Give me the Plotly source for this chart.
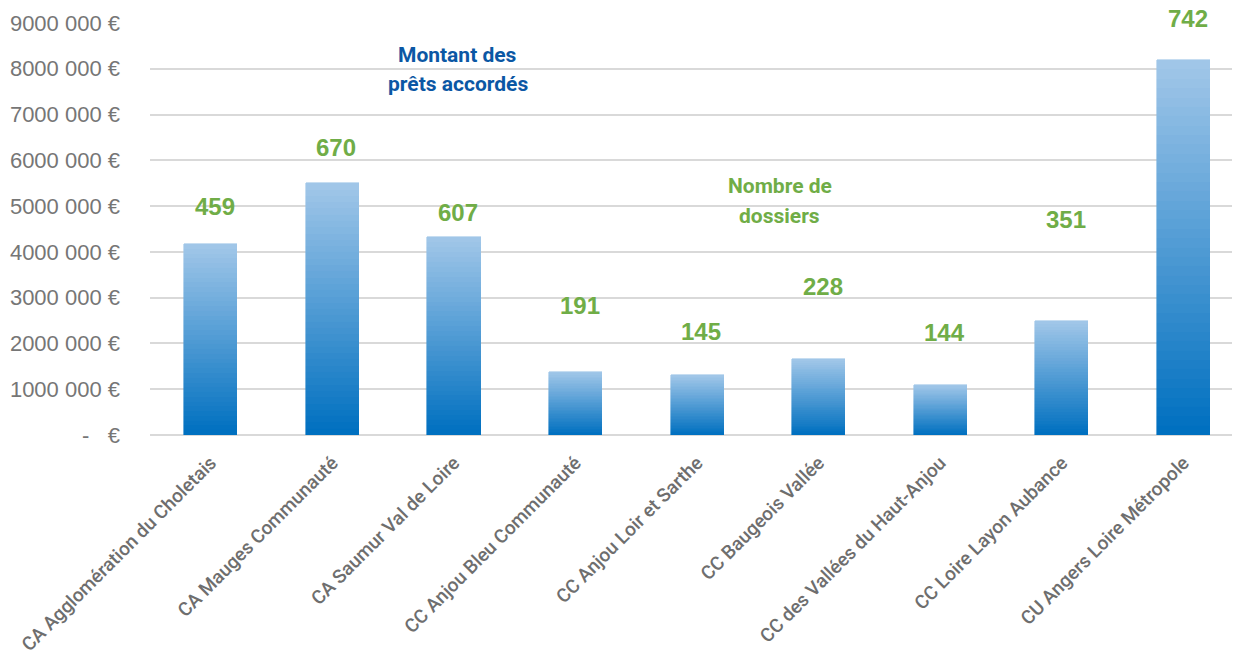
import plotly.graph_objects as go

# ---- data ----
categories = [
    "CA Agglomération du Choletais",
    "CA Mauges Communauté",
    "CA Saumur Val de Loire",
    "CC Anjou Bleu Communauté",
    "CC Anjou Loir et Sarthe",
    "CC Baugeois Vallée",
    "CC des Vallées du Haut-Anjou",
    "CC Loire Layon Aubance",
    "CU Angers Loire Métropole",
]
montants = [4170000, 5500000, 4320000, 1380000, 1310000, 1660000, 1090000, 2490000, 8190000]
dossiers = [459, 670, 607, 191, 145, 228, 144, 351, 742]
# vertical placement of the count labels (in € axis units, as placed in the source)
label_y = [5000000, 6290000, 4870000, 2820000, 2270000, 3250000, 2240000, 4700000, 9090000]
tick_vals = [0, 1000000, 2000000, 3000000, 4000000, 5000000, 6000000, 7000000, 8000000, 9000000]
y_max = 9000000


def fmt(v):
    if v == 0:
        return "-\u00a0\u00a0\u00a0€"
    return f"{v // 1000} {v % 1000:03d} €"


tick_text = [fmt(v) for v in tick_vals]

# ---- gradient bars via stacked slices ----
N = 40
top_rgb = (160, 198, 232)
bot_rgb = (0, 112, 192)

fig = go.Figure()
for i in range(N):
    t = i / (N - 1)
    c = tuple(round(bot_rgb[k] + (top_rgb[k] - bot_rgb[k]) * t) for k in range(3))
    col = f"rgb{c}"
    fig.add_trace(go.Bar(
        x=categories,
        y=[v / N for v in montants],
        width=0.436,
        marker=dict(color=col, line=dict(color=col, width=0.6)),
        showlegend=False,
        hoverinfo="skip",
    ))

ann = []
for cat, d, ly in zip(categories, dossiers, label_y):
    ann.append(dict(x=cat, y=ly / y_max, xref="x", yref="paper", text=str(d), showarrow=False,
                    xanchor="center", yanchor="middle", xshift=4,
                    font=dict(family="Liberation Sans", size=24, color="#70ad47", weight="bold")))
for j, line in enumerate(["Montant des", "prêts accordés"]):
    ann.append(dict(x=2.03, y=8300000 - j * 630000, xref="x", yref="y", text=line,
                    showarrow=False, xanchor="center", yanchor="middle",
                    font=dict(family="Roboto", size=21, color="#0b57a4", weight="bold")))
for j, line in enumerate(["Nombre de", "dossiers"]):
    ann.append(dict(x=4.68, y=5430000 - j * 650000, xref="x", yref="y", text=line,
                    showarrow=False, xanchor="center", yanchor="middle",
                    font=dict(family="Roboto", size=21, color="#70ad47", weight="bold")))

fig.update_layout(
    width=1240, height=654,
    margin=dict(l=142, r=8, t=15, b=227, autoexpand=False),
    paper_bgcolor="white", plot_bgcolor="white",
    barmode="stack", bargap=0,
    annotations=ann,
    xaxis=dict(
        range=[-0.5, 8.464], automargin=False,
        tickangle=-45,
        tickfont=dict(family="Roboto", size=19, color="#6e6e6e", weight=500),
        showgrid=False, showline=False, ticks="", ticklabelstandoff=12,
    ),
    yaxis=dict(
        range=[0, y_max], automargin=False,
        tickvals=tick_vals, ticktext=tick_text,
        tickfont=dict(family="Liberation Sans", size=22, color="#767676"),
        showgrid=True, gridcolor="#d9d9d9", gridwidth=1.6,
        zeroline=True, zerolinecolor="#d9d9d9", zerolinewidth=1.6,
        showline=False, ticks="", ticklabelstandoff=29,
    ),
)

fig.write_html("out.html")
